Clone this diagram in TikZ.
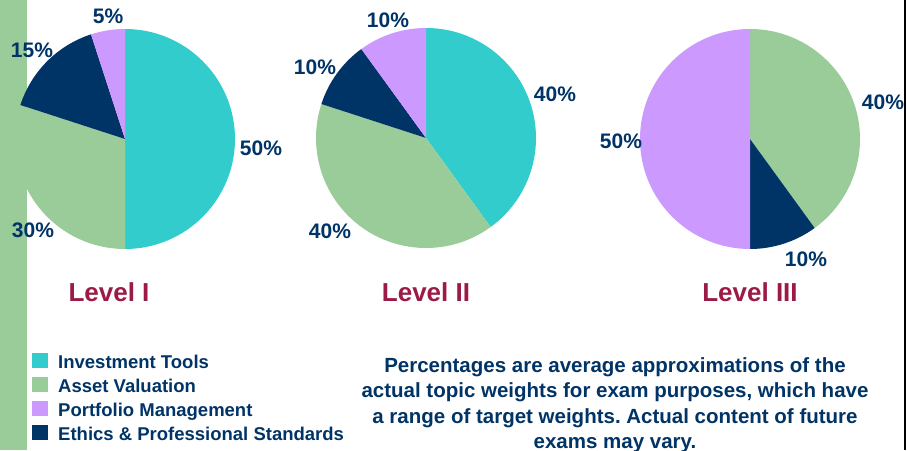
\documentclass[tikz,border=0pt]{standalone}
\usepackage{fontspec}
\setmainfont{Liberation Sans}
\frenchspacing

\definecolor{itcol}{HTML}{33CCCC}
\definecolor{avcol}{HTML}{99CC99}
\definecolor{pmcol}{HTML}{CC99FF}
\definecolor{etcol}{HTML}{003366}
\definecolor{txtcol}{HTML}{003366}
\definecolor{lvlcol}{HTML}{9B1B45}

\tikzset{
  pct/.style={font=\bfseries\fontsize{21}{25}\selectfont, text=txtcol, inner sep=0pt},
  level/.style={font=\bfseries\fontsize{26}{30}\selectfont, text=lvlcol, inner sep=0pt},
  key/.style={font=\bfseries\fontsize{18.5}{22}\selectfont, text=txtcol, inner sep=0pt, anchor=base west},
  note/.style={font=\bfseries\fontsize{20.5}{25.5}\selectfont, text=txtcol, align=center, anchor=north, inner sep=0pt}
}

\begin{document}
\begin{tikzpicture}[x=1pt,y=1pt]
  \useasboundingbox (0,0) rectangle (907,450);
  \def\rad{110pt}

  \coordinate (c1) at (125,311);
  \coordinate (c2) at (426,312);
  \coordinate (c3) at (750,311);

  % side bar and right border
  \fill[avcol] (0,0) rectangle (27,450);
  \draw[line width=2pt] (905,0) -- (905,450);

  % Level I
  \fill[itcol] (c1) -- ++(90:\rad) arc[start angle=90, end angle=-90, radius=\rad] -- cycle;
  \fill[avcol] (c1) -- ++(270:\rad) arc[start angle=270, end angle=162, radius=\rad] -- cycle;
  \fill[etcol] (c1) -- ++(162:\rad) arc[start angle=162, end angle=108, radius=\rad] -- cycle;
  \fill[pmcol] (c1) -- ++(108:\rad) arc[start angle=108, end angle=90, radius=\rad] -- cycle;

  % Level II
  \fill[itcol] (c2) -- ++(90:\rad) arc[start angle=90, end angle=-54, radius=\rad] -- cycle;
  \fill[avcol] (c2) -- ++(306:\rad) arc[start angle=306, end angle=162, radius=\rad] -- cycle;
  \fill[etcol] (c2) -- ++(162:\rad) arc[start angle=162, end angle=126, radius=\rad] -- cycle;
  \fill[pmcol] (c2) -- ++(126:\rad) arc[start angle=126, end angle=90, radius=\rad] -- cycle;

  % Level III
  \fill[avcol] (c3) -- ++(90:\rad) arc[start angle=90, end angle=-54, radius=\rad] -- cycle;
  \fill[etcol] (c3) -- ++(306:\rad) arc[start angle=306, end angle=270, radius=\rad] -- cycle;
  \fill[pmcol] (c3) -- ++(270:\rad) arc[start angle=270, end angle=90, radius=\rad] -- cycle;

  % percentages
  \node[pct] (p1pm) at (108,434) {5\%};
  \node[pct] (p1et) at (32,400) {15\%};
  \node[pct] (p1it) at (261,302) {50\%};
  \node[pct] (p1av) at (33,220) {30\%};

  \node[pct] (p2pm) at (388,430) {10\%};
  \node[pct] (p2et) at (315,383) {10\%};
  \node[pct] (p2it) at (555,356) {40\%};
  \node[pct] (p2av) at (330,219) {40\%};

  \node[pct] (p3av) at (883,348) {40\%};
  \node[pct] (p3pm) at (621,309) {50\%};
  \node[pct] (p3et) at (806,191) {10\%};

  \node[level] (lv1) at (109,158) {Level I};
  \node[level] (lv2) at (426,158) {Level II};
  \node[level] (lv3) at (750,158) {Level III};

  % legend
  \fill[itcol] (32,82) rectangle (48,97);
  \fill[avcol] (32,58) rectangle (48,73);
  \fill[pmcol] (32,34) rectangle (48,49);
  \fill[etcol] (32,10) rectangle (48,25);
  \node[key] (k1) at (58,82) {Investment Tools};
  \node[key] (k2) at (58,58) {Asset Valuation};
  \node[key] (k3) at (58,34) {Portfolio Management};
  \node[key] (k4) at (58,10) {Ethics \& Professional Standards};

  \node[note] (note) at (615,93) {Percentages are average approximations of the\\
    actual topic weights for exam purposes, which have\\
    a range of target weights. Actual content of future\\
    exams may vary.};
\end{tikzpicture}
\end{document}
